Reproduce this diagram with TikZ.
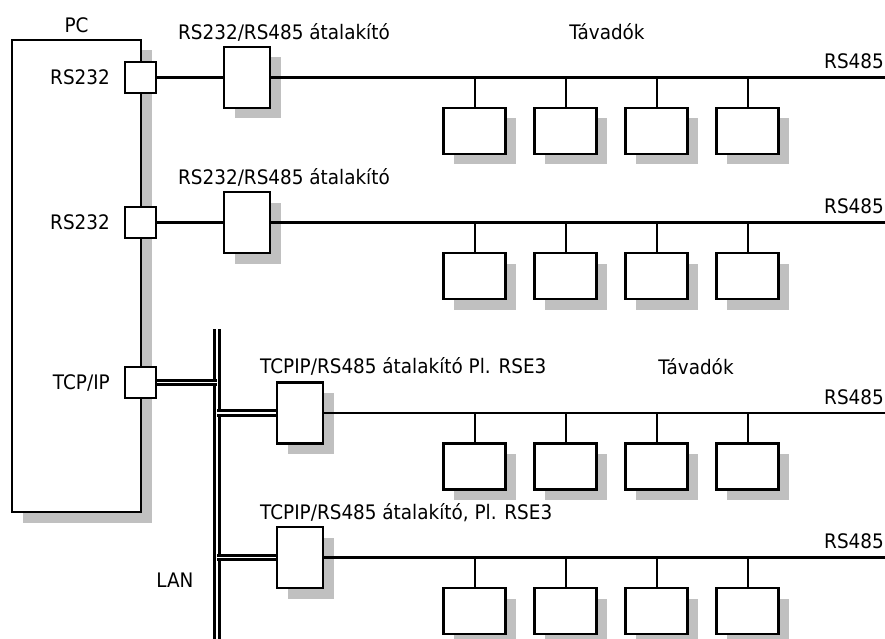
\documentclass[tikz,border=0pt]{standalone}
\usepackage{fontspec}
\setmainfont[FakeStretch=0.92]{DejaVu Sans}
\usetikzlibrary{shadows}
\definecolor{shade}{HTML}{C0C0C0}
\begin{document}
\begin{tikzpicture}[x=1pt,y=-1pt,
  box/.style={draw, fill=white, line width=2.3pt, inner sep=0pt, rectangle},
  shbox/.style={box, drop shadow={shadow xshift=10.5pt, shadow yshift=-10.5pt, fill=shade, opacity=1}},
  lbl/.style={inner sep=0pt, text height=14.5pt, text depth=0pt, font=\fontsize{20}{22}\selectfont},
  wire/.style={line width=2.8pt},
  bus/.style={line width=2.9pt},
  tick/.style={line width=2pt},
  lan/.style={double=white, double distance=1.8pt, line width=2.8pt},
  dev/.style={shbox, minimum width=62pt, minimum height=46pt},
  conv/.style={shbox, minimum width=46pt, minimum height=61pt},
  port/.style={box, minimum size=31pt}
]
\useasboundingbox (0,0) rectangle (885,639);

% PC
\node[shbox, minimum width=129pt, minimum height=472pt] (pc) at (76.5,276) {};
\node[lbl] (pclbl) at (76.5,25) {PC};

% ports
\node[port] (p1) at (140.5,77.5) {};
\node[port] (p2) at (140.5,222.5) {};
\node[port] (p3) at (140.5,382.5) {};
\node[lbl, anchor=east] (p1l) at (110,77.5) {RS232};
\node[lbl, anchor=east] (p2l) at (110,222.5) {RS232};
\node[lbl, anchor=east] (p3l) at (110,382.5) {TCP/IP};

% converters
\node[conv] (c1) at (247,77.5) {};
\node[conv] (c2) at (247,222.5) {};
\node[conv] (c3) at (300,413) {};
\node[conv] (c4) at (300,557.5) {};
\node[lbl, anchor=west] (c1l) at (178,32.5) {RS232/RS485 átalakító};
\node[lbl, anchor=west] (c2l) at (178,177.5) {RS232/RS485 átalakító};
\node[lbl, anchor=west] (c3l) at (260,366) {TCPIP/RS485 átalakító Pl. RSE3};
\node[lbl, anchor=west] (c4l) at (260,512) {TCPIP/RS485 átalakító, Pl. RSE3};

% labels
\node[lbl] (t1) at (607,32) {Távadók};
\node[lbl] (t3) at (696,367) {Távadók};
\node[lbl, anchor=east] (r1) at (884,61.5) {RS485};
\node[lbl, anchor=east] (r2) at (884,206.5) {RS485};
\node[lbl, anchor=east] (r3) at (884,397) {RS485};
\node[lbl, anchor=east] (r4) at (884,541.5) {RS485};
\node[lbl] (lanl) at (175,580) {LAN};

% devices
\foreach \r/\yy in {1/131,2/276,3/466.5,4/611}
  \foreach \k/\xx in {1/474.5,2/565.5,3/656.5,4/747.5}
    \node[dev] (d\r\k) at (\xx,\yy) {};

% wires
\draw[wire] (p1.east) -- (c1.west);
\draw[wire] (p2.east) -- (c2.west);
\foreach \r in {1,2,3,4} {
  \coordinate (e\r) at (885,0 |- c\r.center);
  \draw[bus] (c\r.east) -- (c\r.center -| e\r);
  \foreach \k in {1,2,3,4}
    \draw[tick] (d\r\k.north) -- (d\r\k.north |- c\r.center);
}

% LAN
\coordinate (lant) at (217,329);
\coordinate (lanb) at (217,639);
\draw[lan] (lant) -- (lanb);
\draw[lan] (p3.east) -- (p3.east -| lant);
\draw[lan] (lant |- c3.west) -- (c3.west);
\draw[lan] (lant |- c4.west) -- (c4.west);
\end{tikzpicture}
\end{document}
